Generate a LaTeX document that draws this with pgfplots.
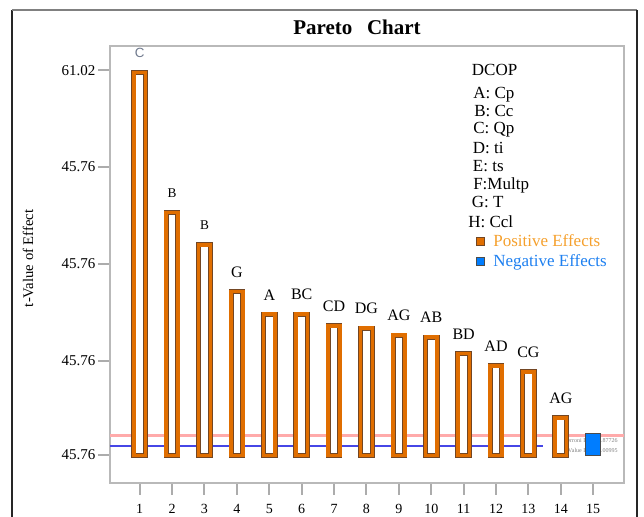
\documentclass[border=0pt]{standalone}
\usepackage{pgfplots}
\pgfplotsset{compat=1.18}
\usepackage{fontspec}
\setmainfont{Liberation Serif}
\setsansfont{Liberation Sans}
\definecolor{barorange}{RGB}{224,110,0}
\definecolor{barbrown}{RGB}{115,70,35}
\definecolor{negblue}{RGB}{0,125,255}
\definecolor{posorange}{RGB}{245,160,45}
\definecolor{negtext}{RGB}{30,128,240}
\definecolor{limred}{RGB}{255,170,170}
\definecolor{limblue}{RGB}{70,70,230}
\definecolor{clabel}{RGB}{110,120,140}
\pgfplotstableread{
x y
1 383
2 243
3 210.7
4 164
5 141.3
6 141.3
7 129.7
8 127.3
9 120.3
10 118.3
11 102
12 89.7
13 83.7
14 37.7
}\posdata
\begin{document}
\begin{tikzpicture}[x=0.75pt,y=0.75pt]
\path[use as bounding box] (0,0) rectangle (644,517);
\draw[black!85, line width=1.1pt] (12,-5) -- (12,507);
\draw[gray, line width=1.1pt] (12,507) -- (637,507);
\draw[black!85, line width=1.1pt] (637,507) -- (637,-5);
\node[font=\bfseries\fontsize{15.75}{16}\selectfont] at (357,490) {Pareto\hspace{0.7em}Chart};
\node[rotate=90, font=\fontsize{11}{11}\selectfont] at (28,258.7) {t-Value of Effect};
\begin{axis}[
  at={(82.5pt,25.5pt)}, anchor=south west, scale only axis,
  width=385.5pt, height=327.975pt,
  xmin=0.083, xmax=15.95, ymin=-27.5, ymax=409.8,
  axis line style={draw=gray!55, line width=1.6pt},
  xtick={1,...,15},
  ytick={0.5,94.5,191.5,288.8,385.2},
  yticklabels={45.76,45.76,45.76,45.76,61.02},
  xtick pos=left, ytick pos=left,
  tick align=outside,
  major tick length=9pt,
  tick style={draw=gray!65, line width=1.5pt},
  yticklabel style={font=\fontsize{11.25}{11.25}\selectfont, xshift=1.5pt},
  xticklabel style={font=\fontsize{10.5}{10.5}\selectfont, text height=7.5pt, text depth=0pt, yshift=-3pt},
  /pgf/number format/assume math mode=true,
  clip=false,
  legend style={at={(0.712,0.574)}, anchor=north west, draw=none, fill=none,
    font=\fontsize{12.75}{13}\selectfont, row sep=0.5pt, inner sep=0pt,
    /tikz/every odd column/.append style={column sep=4pt}},
  legend cell align=left,
]
\addplot[forget plot, draw=limred, line width=2.2pt] coordinates {(0.083,19.8) (15.95,19.8)};
\addplot[forget plot, draw=limblue, line width=0.8pt] coordinates {(0.083,9.5) (13.45,9.5)};
\node[anchor=east, font=\fontsize{4.5}{4.5}\selectfont, text=gray] at (axis cs:15.9,15) {Bonferroni Limit 3.87726};
\node[anchor=east, font=\fontsize{4.5}{4.5}\selectfont, text=gray] at (axis cs:15.9,5.5) {t-Value Limit 2.00995};
\addplot[forget plot, ybar, bar width=8.775pt, draw=barbrown, line width=3.75pt, fill=white] table[x=x,y=y] {\posdata};
\addplot[forget plot, ybar, bar width=8.775pt, draw=barorange, line width=2.7pt, fill=none] table[x=x,y=y] {\posdata};
\addplot[forget plot, ybar, bar width=11.25pt, fill=negblue, draw=black!70, line width=0.6pt] coordinates {(15,21.7)};
% labels
\addplot[forget plot, draw=none, mark=none, nodes near coords, point meta=explicit symbolic,
  nodes near coords style={anchor=center, yshift=14.6pt, font=\sffamily\fontsize{10}{10}\selectfont, text=clabel}]
  coordinates {(1,383)[C]};
\addplot[forget plot, draw=none, mark=none, nodes near coords, point meta=explicit symbolic,
  nodes near coords style={anchor=center, yshift=14.6pt, font=\fontsize{10}{10}\selectfont}]
  coordinates {(2,243)[B] (3,210.7)[B]};
\addplot[forget plot, draw=none, mark=none, nodes near coords, point meta=explicit symbolic,
  nodes near coords style={anchor=center, yshift=14.6pt, font=\fontsize{12}{12}\selectfont}]
  coordinates {(4,164)[G] (5,141.3)[A] (6,141.3)[BC] (7,129.7)[CD] (8,127.3)[DG] (9,120.3)[AG]
   (10,118.3)[AB] (11,102)[BD] (12,89.7)[AD] (13,83.7)[CG] (14,37.7)[AG]};
\addlegendimage{legend image code/.code={\draw[fill=barorange, draw=barbrown, line width=0.8pt] (0pt,-3pt) rectangle (6pt,3pt);}}
\addlegendentry{\textcolor{posorange}{Positive Effects}}
\addlegendimage{legend image code/.code={\draw[fill=negblue, draw=black!70, line width=0.8pt] (0pt,-3pt) rectangle (6pt,3pt);}}
\addlegendentry{\textcolor{negtext}{Negative Effects}}
\end{axis}
\begin{scope}[every node/.style={anchor=west, inner sep=0pt, font=\fontsize{12.75}{13}\selectfont}]
\node at (471.7,447) {DCOP};
\node at (473,422.7) {A: Cp};
\node at (474,406) {B: Cc};
\node at (473,387) {C: Qp};
\node at (472.7,368.7) {D: ti};
\node at (472.7,351.3) {E: ts};
\node at (473,332) {F:Multp};
\node at (471.7,315.3) {G: T};
\node at (468,295.3) {H: Ccl};
\end{scope}
\end{tikzpicture}
\end{document}
